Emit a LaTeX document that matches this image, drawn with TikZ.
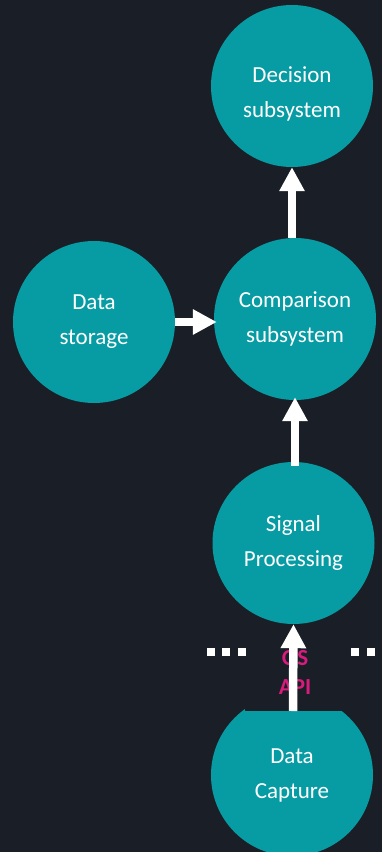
\documentclass[tikz,border=0pt]{standalone}
\usepackage{fontspec}
\setmainfont{Carlito}
\usetikzlibrary{arrows.meta}
\definecolor{bg}{HTML}{1A1F27}
\definecolor{teal1}{HTML}{079CA3}
\definecolor{mag}{HTML}{D81B7D}
\tikzset{
  bubble/.style={circle, fill=teal1, minimum size=162pt, inner sep=0pt, text=white,
    align=center, font=\fontsize{23pt}{35pt}\selectfont},
  flow/.style={draw=white, line width=8.5pt,
    -{Triangle[length=24pt,width=24pt]}},
  dot/.style={fill=white, minimum size=8pt, inner sep=0pt}
}
\begin{document}
\begin{tikzpicture}[x=1pt,y=-1pt]
\fill[bg] (0,0) rectangle (382,852);
\useasboundingbox (0,0) rectangle (382,852);
\node[bubble] (dec) at (292,86) {\rule{0pt}{31pt}Decision\\subsystem};
\node[bubble] (cmp) at (295,319) {Comparison\\subsystem};
\node[bubble] (sto) at (94,322) {Data\\storage};
\node[bubble] (sig) at (293.5,543) {Signal\\Processing};
\node[bubble] (cap) at (292,775) {Data\\Capture};
\fill[bg] (245,683) rectangle (362,711);
\coordinate (capTop) at (293,711);
\node[text=mag, font=\bfseries\fontsize{23pt}{29pt}\selectfont, align=center] (api) at (295,672) {OS\\API};
\draw[flow] (cmp.north -| dec.south) -- (dec.south);
\draw[flow, shorten >=-3pt] (sto.east) -- (sto.east -| cmp.west);
\draw[flow, shorten >=-3pt, shorten <=-4pt] (sig.north -| cmp.south) -- (cmp.south);
\draw[flow] (capTop) -- (sig.south);
\node[dot] (l1) at (211,652) {};
\node[dot] (l2) at (226,652) {};
\node[dot] (l3) at (242,652) {};
\node[dot] (r1) at (355,652) {};
\node[dot] (r2) at (371,652) {};
\node[dot] (r3) at (387,652) {};
\end{tikzpicture}
\end{document}
